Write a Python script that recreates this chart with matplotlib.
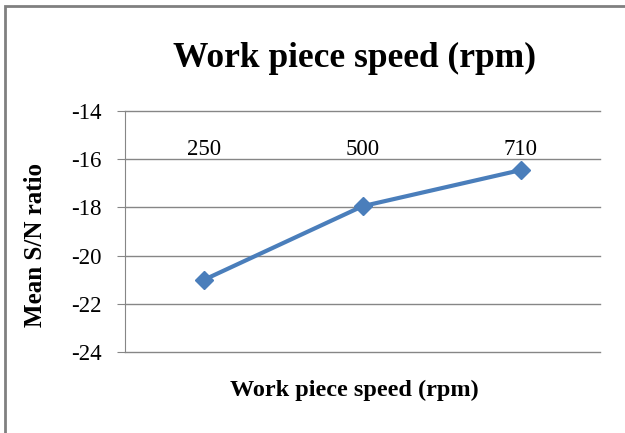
import matplotlib.pyplot as plt
from matplotlib.patches import Rectangle

speeds = ['250', '500', '710']
mean_sn = [-21.0, -17.95, -16.45]
yticks = [-24, -22, -20, -18, -16, -14]

plt.rcParams['font.family'] = 'Liberation Serif'

fig = plt.figure(figsize=(6.25, 4.33), dpi=100)
ax = fig.add_axes([0.2, 0.187, 0.76, 0.5566])

x = list(range(len(speeds)))
ax.plot(x, mean_sn, color='#4A7EBB', lw=3, marker='D', markersize=9, zorder=3)

ax.set_xlim(-0.5, len(speeds) - 0.5)
ax.set_ylim(-24, -14)
ax.set_yticks(yticks)
ax.set_yticklabels([str(t) for t in yticks], fontsize=16.5)
ax.set_xticks([])
ax.tick_params(axis='y', length=6, color='#868686', pad=11)
for t in yticks:
    ax.axhline(t, color='#868686', lw=1, zorder=1, clip_on=False)
for s in ['top', 'right', 'bottom']:
    ax.spines[s].set_visible(False)
ax.spines['left'].set_color('#868686')

# category labels sit just above the -16 line
for i, s in enumerate(speeds):
    ax.text(i, -16.05, s, ha='center', va='bottom', fontsize=16.5)

ax.set_ylabel('Mean S/N ratio', fontsize=18, fontweight='bold', va='center')
ax.yaxis.set_label_coords(-0.189, 0.444)
ax.set_xlabel('Work piece speed (rpm)', fontsize=17.5, fontweight='bold', va='center')
ax.xaxis.set_label_coords(0.482, -0.158)
fig.text(0.568, 0.865, 'Work piece speed (rpm)', ha='center', va='center',
         fontsize=25.5, fontweight='bold')

fig.patches.append(Rectangle((0.008, -0.1), 1.2, 1.086, transform=fig.transFigure,
                             fill=False, edgecolor='#808080', lw=2))

fig.savefig('out.png', dpi=100)
